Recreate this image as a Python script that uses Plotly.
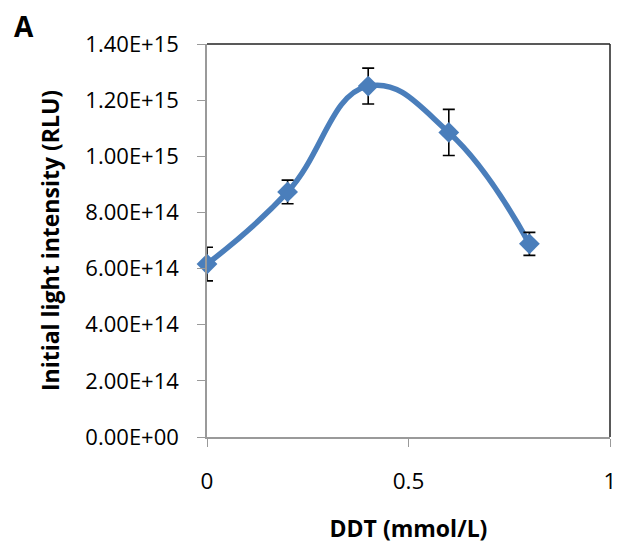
import plotly.graph_objects as go

ddt = [0, 0.2, 0.4, 0.6, 0.8]
intensity = [6.16e14, 8.73e14, 1.25e15, 1.085e15, 6.88e14]
err = [0.06e15, 0.042e15, 0.064e15, 0.082e15, 0.041e15]
y_ticks = [0, 2e14, 4e14, 6e14, 8e14, 1.0e15, 1.2e15, 1.4e15]
y_tick_labels = ["0.00E+00", "2.00E+14", "4.00E+14", "6.00E+14", "8.00E+14",
                 "1.00E+15", "1.20E+15", "1.40E+15"]
x_ticks = [0, 0.5, 1]
x_tick_labels = ["0", "0.5", "1"]

font = "Open Sans, DejaVu Sans, sans-serif"
blue = "#4A7EBB"

fig = go.Figure()
fig.add_trace(go.Scatter(
    x=ddt, y=intensity, mode="lines", cliponaxis=False,
    line=dict(color=blue, width=5.5, shape="spline", smoothing=1.25),
    hoverinfo="skip", showlegend=False))
fig.add_trace(go.Scatter(
    x=ddt, y=intensity, mode="markers", cliponaxis=False,
    marker=dict(symbol="diamond", size=16, color=blue),
    error_y=dict(type="data", array=err, visible=True, color="black",
                 thickness=1.6, width=6),
    showlegend=False))

# page body has an 8px default margin, so the figure is sized to fit the window
fig.update_layout(
    width=612, height=538,
    margin=dict(l=199, r=10, t=36, b=109),
    paper_bgcolor="white", plot_bgcolor="white",
    font=dict(family=font, size=17, color="black"),
    xaxis=dict(range=[0, 1], tickvals=x_ticks, ticktext=x_tick_labels,
               automargin=False,
               showgrid=False, zeroline=False, showline=True,
               linecolor="#9a9a9a", linewidth=1.5,
               ticks="outside", ticklen=8, tickcolor="#9a9a9a",
               tickfont=dict(size=22.5), ticklabelstandoff=15,
               title=dict(text="<b>DDT (mmol/L)</b>", font=dict(size=23),
                          standoff=26)),
    yaxis=dict(range=[0, 1.4e15], tickvals=y_ticks, ticktext=y_tick_labels,
               automargin=False,
               showgrid=False, zeroline=False, showline=True,
               linecolor="#9a9a9a", linewidth=1.5,
               ticks="outside", ticklen=8, tickcolor="#9a9a9a",
               tickfont=dict(size=22), ticklabelstandoff=14,
               title=dict(text="<b>Initial light intensity (RLU)</b>",
                          font=dict(size=23), standoff=19)),
    shapes=[
        dict(type="line", xref="paper", yref="paper", x0=0, x1=1, y0=1, y1=1,
             line=dict(color="#222222", width=1.5)),
        dict(type="line", xref="paper", yref="paper", x0=1, x1=1, y0=0, y1=1,
             line=dict(color="#222222", width=1.5)),
    ],
    annotations=[dict(text="<b>A</b>", xref="paper", yref="paper",
                      x=-0.484, y=1.046, xanchor="left", yanchor="middle",
                      showarrow=False, font=dict(size=28))],
)

fig.write_html("out.html")
